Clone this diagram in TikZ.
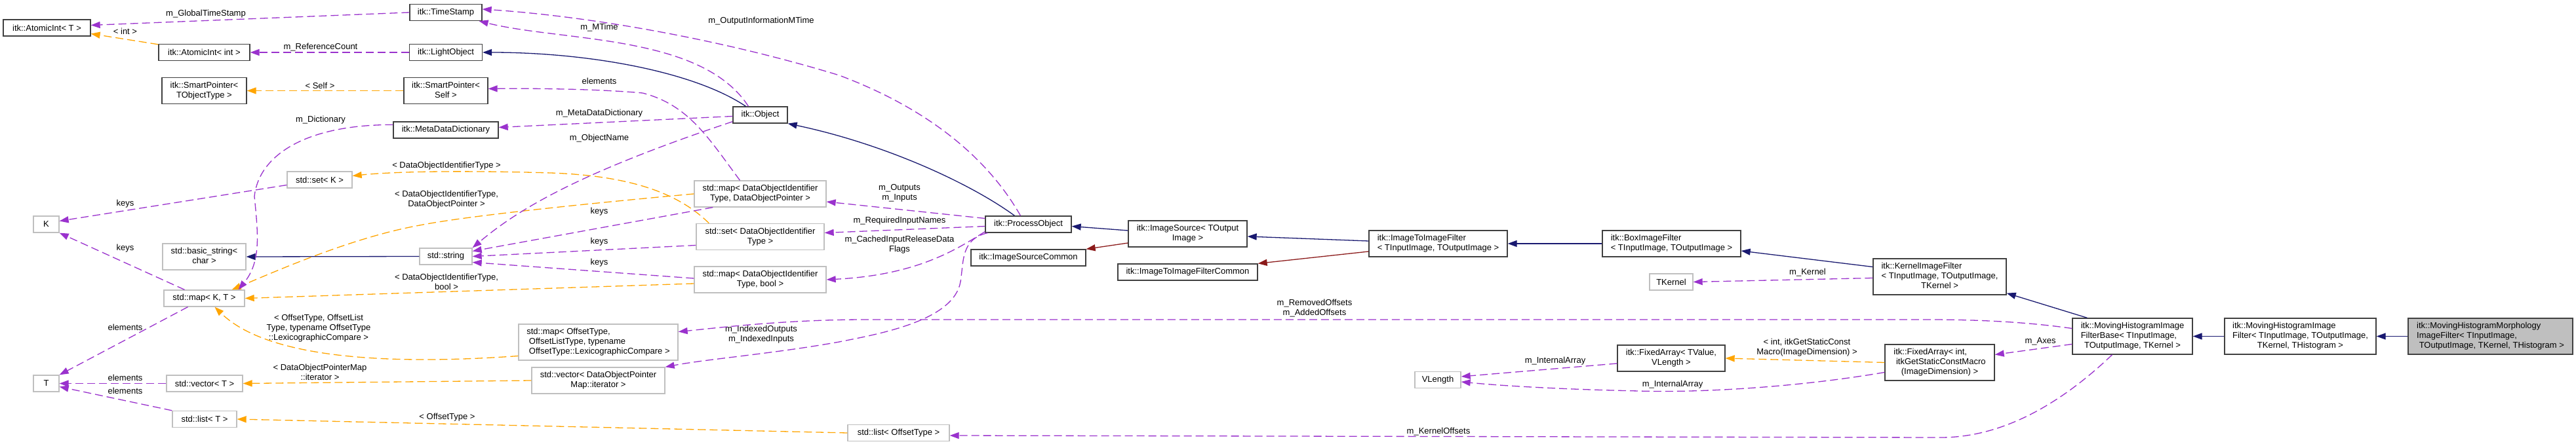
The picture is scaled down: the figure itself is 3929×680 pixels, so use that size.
\documentclass[tikz,border=0pt]{standalone}
\usepackage{fontspec}
\setmainfont{Liberation Sans}
\usetikzlibrary{arrows.meta, calc, positioning}

\definecolor{inhblue}{HTML}{191970}
\definecolor{privred}{HTML}{8B1A1A}
\definecolor{usepurple}{HTML}{9A32CD}
\definecolor{tmplorange}{HTML}{FFA500}
\definecolor{docgrey}{HTML}{404040}
\definecolor{undocgrey}{HTML}{BFBFBF}

\newcommand{\dxfont}{\fontsize{13}{15}\selectfont}
% lines left aligned, last line centred
\newcommand{\cls}[2]{\begin{tabular}{@{}l@{}}#1\\\multicolumn{1}{@{}c@{}}{#2}\end{tabular}}

\tikzset{
  box/.style={draw, line width=1.3pt, inner sep=0pt, minimum height=25pt, font=\dxfont, align=center},
  doc/.style={box, draw=docgrey},
  undoc/.style={box, draw=undocgrey},
  lbl/.style={font=\dxfont, inner sep=0pt, align=center},
  inh/.style={draw=inhblue, line width=1.3pt, -{Triangle[length=14pt,width=10pt]}},
  priv/.style={inh, draw=privred},
  use/.style={draw=usepurple, line width=1.3pt, dash pattern=on 12pt off 6pt, -{Triangle[length=14pt,width=10pt]}},
  tmpl/.style={use, draw=tmplorange}
}

\begin{document}
\begin{tikzpicture}[x=1pt, y=-1pt]
    \useasboundingbox[fill=white] (0,0) rectangle (3929,680);

    % classes
    \node[doc, minimum width=133pt] (ait) at (71.5,42.5) {itk::AtomicInt< T >};
    \node[doc, minimum width=139pt] (aii) at (311.5,80) {itk::AtomicInt< int >};
    \node[doc, minimum width=129pt, minimum height=40pt] (spt) at (311.5,138.5) {\cls{itk::SmartPointer<}{TObjectType >}};
    \node[doc, minimum width=110pt] (ts) at (680,19) {itk::TimeStamp};
    \node[doc, minimum width=111pt] (lo) at (680,80) {itk::LightObject};
    \node[doc, minimum width=128pt, minimum height=40pt] (sps) at (680,138.5) {\cls{itk::SmartPointer<}{Self >}};
    \node[doc, minimum width=160pt] (mdd) at (680,198.5) {itk::MetaDataDictionary};
    \node[doc, minimum width=83pt] (obj) at (1159.5,175.5) {itk::Object};
    \node[undoc, minimum width=99pt] (setk) at (487.5,274.5) {std::set< K >};
    \node[undoc, minimum width=39pt] (k) at (70.5,342.5) {K};
    \node[undoc, minimum width=127pt, minimum height=40pt] (bstr) at (311.5,392) {\cls{std::basic\_string<}{char >}};
    \node[undoc, minimum width=80pt] (str) at (680,391.5) {std::string};
    \node[undoc, minimum width=123pt] (mapkt) at (311.5,455.5) {std::map< K, T >};
    \node[undoc, minimum width=39pt] (t) at (70.5,585.5) {T};
    \node[undoc, minimum width=116pt] (vect) at (312,585.5) {std::vector< T >};
    \node[undoc, minimum width=98pt] (listt) at (312,640) {std::list< T >};
    \node[undoc, minimum width=201pt, minimum height=40pt] (mapdop) at (1159.5,296) {\cls{std::map< DataObjectIdentifier}{Type, DataObjectPointer >}};
    \node[undoc, minimum width=195pt, minimum height=40pt] (setdoit) at (1159.5,361.5) {\cls{std::set< DataObjectIdentifier}{Type >}};
    \node[undoc, minimum width=201pt, minimum height=40pt] (mapbool) at (1159.5,427) {\cls{std::map< DataObjectIdentifier}{Type, bool >}};
    \node[undoc, minimum width=243pt, minimum height=55pt] (mapot) at (912.5,522.5) {\cls{std::map< OffsetType,\\ \ OffsetListType, typename}{\ OffsetType::LexicographicCompare >}};
    \node[undoc, minimum width=203pt, minimum height=40pt] (vecdop) at (912.5,581) {\cls{std::vector< DataObjectPointer}{Map::iterator >}};
    \node[doc, minimum width=131pt] (po) at (1568.5,342.5) {itk::ProcessObject};
    \node[doc, minimum width=181pt, minimum height=40pt] (isrc) at (1811.5,357) {\cls{itk::ImageSource< TOutput}{Image >}};
    \node[doc, minimum width=175pt] (isc) at (1568.5,393.5) {itk::ImageSourceCommon};
    \node[doc, minimum width=213pt] (itifc) at (1811.5,415.5) {itk::ImageToImageFilterCommon};
    \node[undoc, minimum width=155pt] (listot) at (1370.5,661) {std::list< OffsetType >};
    \node[doc, minimum width=211pt, minimum height=40pt] (itif) at (2193.5,372) {\cls{itk::ImageToImageFilter}{< TInputImage, TOutputImage >}};
    \node[doc, minimum width=211pt, minimum height=40pt] (bif) at (2549.5,372) {\cls{itk::BoxImageFilter}{< TInputImage, TOutputImage >}};
    \node[undoc, minimum width=66pt] (tk) at (2549,430.5) {TKernel};
    \node[doc, minimum width=164pt, minimum height=40pt] (fav) at (2549,547) {\cls{itk::FixedArray< TValue,}{VLength >}};
    \node[undoc, minimum width=70pt] (vl) at (2193,580) {VLength};
    \node[doc, minimum width=203pt, minimum height=55pt] (kif) at (2958.5,422.5) {\cls{itk::KernelImageFilter\\< TInputImage, TOutputImage,}{TKernel >}};
    \node[doc, minimum width=167pt, minimum height=55pt] (fai) at (2958.5,553.5) {\cls{itk::FixedArray< int,\\ \ itkGetStaticConstMacro}{(ImageDimension) >}};
    \node[doc, minimum width=183pt, minimum height=55pt] (mhifb) at (3252.5,513.5) {\cls{itk::MovingHistogramImage\\FilterBase< TInputImage,}{TOutputImage, TKernel >}};
    \node[doc, minimum width=231pt, minimum height=55pt] (mhif) at (3508.5,513.5) {\cls{itk::MovingHistogramImage\\Filter< TInputImage, TOutputImage,}{TKernel, THistogram >}};
    \node[doc, fill=undocgrey, minimum width=251pt, minimum height=55pt] (mhmif) at (3798.5,513.5) {\cls{itk::MovingHistogramMorphology\\ImageFilter< TInputImage,}{\ TOutputImage, TKernel, THistogram >}};

    % edge labels
    \node[lbl] (lGlobalTS) at (314,21) {m\_GlobalTimeStamp};
    \node[lbl] (lInt) at (191,48) {< int >};
    \node[lbl] (lRefCount) at (489,72) {m\_ReferenceCount};
    \node[lbl] (lSelf) at (488,131) {< Self >};
    \node[lbl] (lDict) at (489,183) {m\_Dictionary};
    \node[lbl] (lSetDoit) at (681,253) {< DataObjectIdentifierType >};
    \node[lbl] (lKeysA) at (191,311) {keys};
    \node[lbl] (lMapDop) at (681,305) {< DataObjectIdentifierType,\\DataObjectPointer >};
    \node[lbl] (lKeysB) at (191,379) {keys};
    \node[lbl] (lMapBool) at (681,430) {< DataObjectIdentifierType,\\bool >};
    \node[lbl] (lElemA) at (191,500) {elements};
    \node[lbl] (lMapOt) at (486,501) {< OffsetType, OffsetList\\Type, typename OffsetType\\::LexicographicCompare >};
    \node[lbl] (lVecDop) at (488,568) {< DataObjectPointerMap\\::iterator >};
    \node[lbl] (lElemB) at (191,577) {elements};
    \node[lbl] (lElemC) at (191,597) {elements};
    \node[lbl] (lListOt) at (682,637) {< OffsetType >};
    \node[lbl] (lOutInfo) at (1161,32) {m\_OutputInformationMTime};
    \node[lbl] (lMTime) at (914,42) {m\_MTime};
    \node[lbl] (lElemSp) at (914,124) {elements};
    \node[lbl] (lMetaDict) at (914,173) {m\_MetaDataDictionary};
    \node[lbl] (lObjName) at (914,211) {m\_ObjectName};
    \node[lbl] (lKeysC) at (914,323) {keys};
    \node[lbl] (lKeysD) at (914,369) {keys};
    \node[lbl] (lKeysE) at (914,401) {keys};
    \node[lbl] (lIndexed) at (1161,511) {m\_IndexedOutputs\\m\_IndexedInputs};
    \node[lbl] (lOutputs) at (1372,295) {m\_Outputs\\m\_Inputs};
    \node[lbl] (lReqInput) at (1372,337) {m\_RequiredInputNames};
    \node[lbl] (lCached) at (1372,374) {m\_CachedInputReleaseData\\Flags};
    \node[lbl] (lRemoved) at (2005,471) {m\_RemovedOffsets\\m\_AddedOffsets};
    \node[lbl] (lIntArrA) at (2372,551) {m\_InternalArray};
    \node[lbl] (lKernelOff) at (2194,659) {m\_KernelOffsets};
    \node[lbl] (lKernel) at (2757,416) {m\_Kernel};
    \node[lbl] (lStatic) at (2756,531) {< int, itkGetStaticConst\\Macro(ImageDimension) >};
    \node[lbl] (lAxes) at (3112,521) {m\_Axes};
    \node[lbl] (lIntArrB) at (2551,587) {m\_InternalArray};

    % inheritance
    \draw[inh] ($(obj.north)+(-22,0)$) .. controls (1060,110) and (900,80) .. (lo.east);
    \draw[inh] ($(po.north)+(-21,0)$) .. controls (1480,280) and (1350,220) .. (obj.south east);
    \draw[inh] ($(isrc.west)+(0,-5)$) -- ($(po.east)+(0,3)$);
    \draw[priv] ($(isrc.west)+(0,14)$) -- (isc.north east);
    \draw[inh] ($(itif.west)+(0,-4)$) -- ($(isrc.east)+(0,4)$);
    \draw[priv] ($(itif.west)+(0,12)$) -- (itifc.north east);
    \draw[inh] (bif.west) -- (itif.east);
    \draw[inh] ($(kif.west)+(0,-15)$) -- ($(bif.east)+(0,11)$);
    \draw[inh] ($(mhifb.north)+(-69,0)$) -- ($(kif.south east)+(0,-3)$);
    \draw[inh] (mhif.west) -- (mhifb.east);
    \draw[inh] (mhmif.west) -- (mhif.east);
    \draw[inh] (str.west) -- (bstr.east);

    % template instances
    \draw[tmpl] ($(aii.north west)+(0,1)$) -- ($(ait.east)+(0,9)$);
    \draw[tmpl] (sps.west) -- (spt.east);
    \draw[tmpl] ($(setdoit.north west)+(20,0)$) .. controls (1030,290) and (950,268) .. (840,264) .. controls (700,260) and (600,262) .. ($(setk.east)+(0,-6)$);
    \draw[tmpl] (mapdop.west) .. controls (850,315) and (700,332) .. (640,344) .. controls (540,362) and (430,410) .. ($(mapkt.north east)+(-20,0)$);
    \draw[tmpl] ($(mapbool.west)+(0,6)$) -- (mapkt.east);
    \draw[tmpl] ($(mapot.west)+(0,21)$) .. controls (560,560) and (400,540) .. ($(mapkt.south)+(16,0)$);
    \draw[tmpl] (vecdop.west) -- (vect.east);
    \draw[tmpl] (listot.west) -- (listt.east);
    \draw[tmpl] (fai.west) -- (fav.east);

    % usage
    \draw[use] (ts.west) -- ($(ait.east)+(0,-4)$);
    \draw[use] (lo.west) -- (aii.east);
    \draw[use] ($(obj.north)+(-18,0)$) .. controls (1070,52) and (860,64) .. ($(ts.south east)+(-5,0)$);
    \draw[use] ($(po.north)+(-12,0)$) .. controls (1500,230) and (1400,160) .. (1280,115) .. controls (1100,60) and (900,25) .. ($(ts.east)+(0,-5)$);
    \draw[use] ($(obj.west)+(0,2)$) -- ($(mdd.east)+(0,-4)$);
    \draw[use] ($(obj.south west)+(0,-3)$) .. controls (880,265) and (790,320) .. (str.north east);
    \draw[use] ($(mdd.west)+(0,-8)$) .. controls (470,190) and (395,235) .. (388,300) .. controls (394,360) and (398,400) .. ($(mapkt.north east)+(-10,0)$);
    \draw[use] ($(setk.west)+(0,8)$) -- ($(k.east)+(0,-5)$);
    \draw[use] ($(mapkt.north)+(-30,0)$) -- (k.south east);
    \draw[use] ($(mapkt.south)+(-25,0)$) -- (t.north east);
    \draw[use] (vect.west) -- (t.east);
    \draw[use] (listt.north west) -- ($(t.east)+(0,5)$);
    \draw[use] ($(mapdop.north)+(-31,0)$) .. controls (1080,210) and (1050,160) .. (980,142) .. controls (900,135) and (800,135) .. ($(sps.east)+(0,-3)$);
    \draw[use] ($(mapdop.south west)+(29,0)$) -- ($(str.east)+(0,-8)$);
    \draw[use] ($(setdoit.west)+(0,13)$) -- (str.east);
    \draw[use] ($(mapbool.west)+(0,-2)$) -- ($(str.east)+(0,9)$);
    \draw[use] ($(po.west)+(0,-9)$) -- ($(mapdop.east)+(0,12)$);
    \draw[use] ($(po.west)+(0,3)$) -- ($(setdoit.east)+(0,-6)$);
    \draw[use] ($(po.south west)+(0,-2)$) .. controls (1460,380) and (1400,420) .. (mapbool.east);
    \draw[use] ($(po.south west)+(4,0)$) .. controls (1465,365) and (1470,400) .. (1465,430) .. controls (1455,490) and (1340,510) .. (1280,522) .. controls (1180,540) and (1080,548) .. (vecdop.north east);
    \draw[use] ($(mhifb.west)+(0,-12)$) .. controls (3080,490) and (3000,488) .. (2940,488) -- (1320,488) .. controls (1200,488) and (1100,500) .. ($(mapot.east)+(0,-16)$);
    \draw[use] ($(mhifb.south)+(-31,0)$) .. controls (3150,610) and (3060,668) .. (2960,668) -- ($(listot.east)+(0,4)$);
    \draw[use] ($(kif.west)+(0,2)$) -- (tk.east);
    \draw[use] ($(mhifb.west)+(0,12)$) -- ($(fai.east)+(0,-12)$);
    \draw[use] ($(fav.west)+(0,8)$) -- ($(vl.east)+(0,-5)$);
    \draw[use] ($(fai.west)+(0,15)$) .. controls (2750,590) and (2600,600) .. (2500,597) .. controls (2400,595) and (2300,590) .. ($(vl.east)+(0,3)$);
\end{tikzpicture}
\end{document}
